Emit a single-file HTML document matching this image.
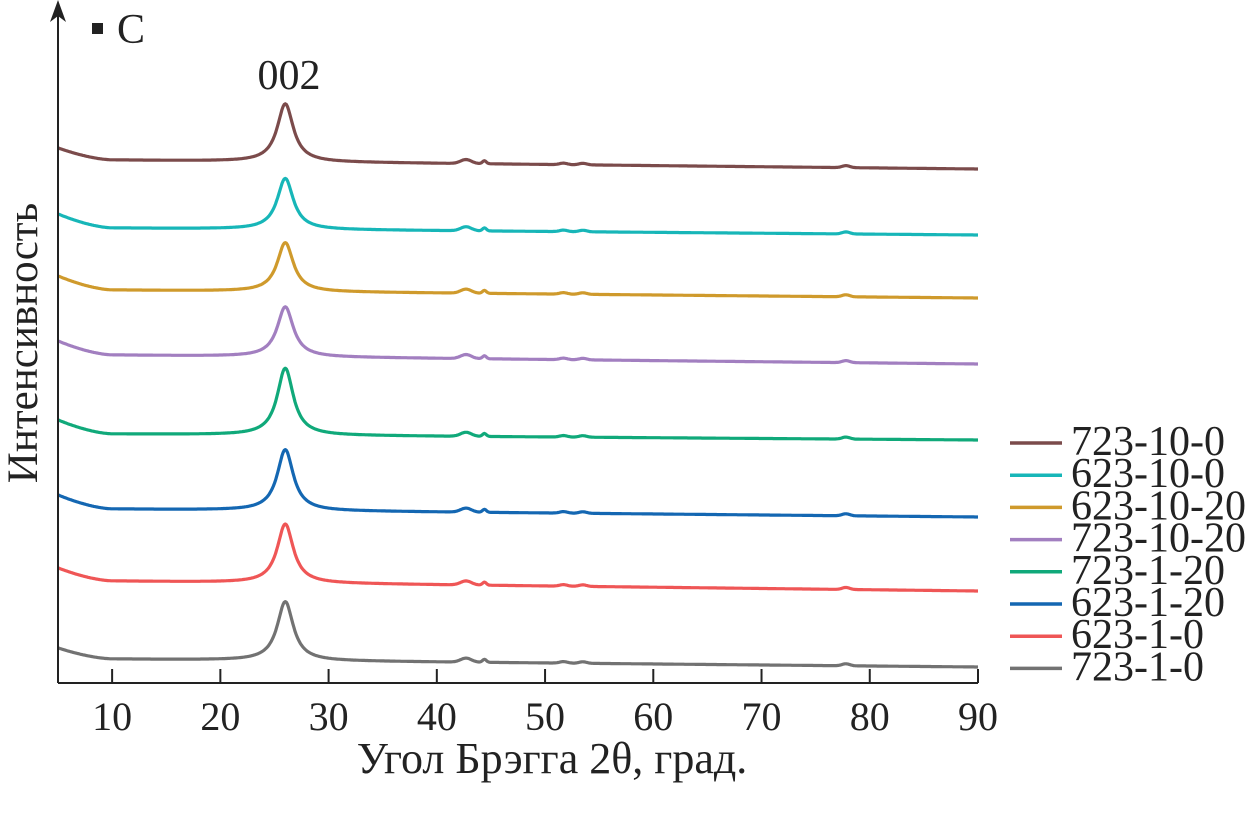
<!DOCTYPE html>
<html><head><meta charset="utf-8"><style>
html,body{margin:0;padding:0;background:#fff;}
svg{display:block;font-family:"Liberation Serif",serif;}
</style></head><body>
<svg id="chart" width="1248" height="828" viewBox="0 0 1248 828"></svg>
<script>
const seriesNames = ["723-10-0","623-10-0","623-10-20","723-10-20","723-1-20","623-1-20","623-1-0","723-1-0"];
const seriesColors = ["#7b4b4b","#17b6b8","#cf9a2c","#a27fc0","#10a97a","#1467b2","#ef5656","#727272"];
// intensity values (arbitrary units, stacked)
const startVals = [535,469,407,342,263,188,115,35];
const baseVals  = [523,455,393,328,249,174,102,24];
const peakVals  = [581,506,442,378,316,235,161,83];
const endVals   = [514,448,385,319,243,166,92,16];
// shared minor reflections: positions (deg) and heights
const minorPos = [42.7,44.4,51.7,53.5,77.8];
const minorH   = [4,3,1.5,1.5,2];
const xTicks = [10,20,30,40,50,60,70,80,90];

const NS="http://www.w3.org/2000/svg";
const svg=document.getElementById('chart');
function el(t,a){const e=document.createElementNS(NS,t);for(const k in a)e.setAttribute(k,a[k]);return e;}
const x0=58, x1=978, xmin=5, xmax=90, yBase=683;
const xs=v=>x0+(v-xmin)/(xmax-xmin)*(x1-x0);
const ys=v=>yBase-v;

for(let s=0;s<seriesNames.length;s++){
  const st=startVals[s], b=baseVals[s], p=peakVals[s], en=endVals[s];
  let d="";
  for(let t=5;t<=90.001;t+=0.1){
    let bl=b+(en-b)*Math.max(0,(t-10))/80;
    if(t<10) bl=b+(st-b)*Math.pow((10-t)/5,1.6);
    const g=0.9;
    let v=bl+(p-b)*(g*g)/((t-26)*(t-26)+g*g);
    for(let k=0;k<minorPos.length;k++){const w=k===1?0.25:(k===0?0.7:0.5);v+=minorH[k]*Math.exp(-Math.pow((t-minorPos[k])/w,2));}
    d+=(d?"L":"M")+xs(t).toFixed(1)+","+ys(v).toFixed(1);
  }
  const path=el('path',{d:d,fill:'none',stroke:seriesColors[s],'stroke-width':3.2,'stroke-linejoin':'round'});
  
  
  svg.appendChild(path);
  const ly=443+s*32.2;
  const g=el('g',{});
  
  
  g.appendChild(el('line',{x1:1010,x2:1062,y1:ly,y2:ly,stroke:seriesColors[s],'stroke-width':3.5}));
  const tx=el('text',{x:1071,y:ly+12,'font-size':42,fill:'#222'});tx.textContent=seriesNames[s];
  g.appendChild(tx);
  svg.appendChild(g);
}
// axes
const ax=el('g',{});


ax.appendChild(el('line',{x1:x0,x2:x0,y1:yBase,y2:14,stroke:'#222','stroke-width':2}));
ax.appendChild(el('path',{d:`M${x0-8},22 L${x0},0 L${x0+8},22 L${x0},16 Z`,fill:'#222'}));
ax.appendChild(el('line',{x1:x0,x2:x1,y1:yBase,y2:yBase,stroke:'#222','stroke-width':2}));
svg.appendChild(ax);
for(const t of xTicks){
  const X=xs(t);
  const tk=el('line',{x1:X,x2:X,y1:yBase,y2:yBase-14,stroke:'#222','stroke-width':2});
  
  
  svg.appendChild(tk);
  const lb=el('text',{x:X,y:730,'font-size':40,'text-anchor':'middle',fill:'#222'});
  lb.textContent=t;
  
  
  svg.appendChild(lb);
}
</script>
<svg style="position:absolute;left:0;top:0" width="1248" height="828">
<text x="552" y="773" font-size="44" text-anchor="middle" fill="#222" font-family="Liberation Serif, serif">Угол Брэгга 2θ, град.</text>
<text transform="translate(37,343) rotate(-90)" font-size="43" text-anchor="middle" fill="#222" font-family="Liberation Serif, serif">Интенсивность</text>
<rect x="92" y="23" width="11" height="11" fill="#222"/>
<text x="117" y="43" font-size="42" fill="#222" font-family="Liberation Serif, serif">C</text>
<text x="289" y="89" font-size="42" text-anchor="middle" fill="#222" font-family="Liberation Serif, serif">002</text>
</svg>
</body></html>
